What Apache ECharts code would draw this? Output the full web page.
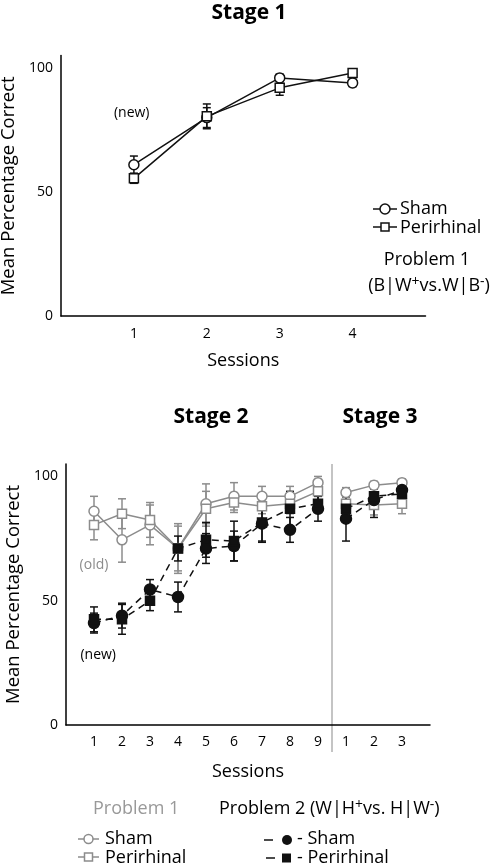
<!DOCTYPE html>
<html><head><meta charset="utf-8">
<script src="https://cdn.jsdelivr.net/npm/echarts@6/dist/echarts.min.js"></script>
<style>html,body{margin:0;padding:0;background:#fff}#c{width:492px;height:866px}</style>
</head><body><div id="c"></div>
<script>
// ---------- DATA ----------
const stage1Sessions = [1, 2, 3, 4];
const stage1Sham = [61, 80, 96, 94];
const stage1ShamErr = [3.5, 4, 1.5, 1.5];
const stage1Peri = [55.5, 80.5, 92, 98];
const stage1PeriErr = [2, 5, 3, 1.5];

const stage2Sessions = [1, 2, 3, 4, 5, 6, 7, 8, 9];
const stage3Sessions = [10, 11, 12];           // plotted after the divider, labelled 1..3
const xTickLabels = ['', '1','2','3','4','5','6','7','8','9','1','2','3',''];

const p1ShamS2 = [86, 74.5, 80.5, 71, 89, 92, 92, 92, 97.5];
const p1ShamS2Err = [6, 9, 8, 9, 8, 5.5, 4, 4, 2.5];
const p1PeriS2 = [80.5, 85, 82.5, 71, 87, 89.5, 88, 89, 94];
const p1PeriS2Err = [6, 6, 7, 10, 7, 4, 3, 4, 4];
const p1ShamS3 = [93.5, 96.5, 97.5];
const p1ShamS3Err = [2, 1.5, 1.5];
const p1PeriS3 = [89, 88.5, 89];
const p1PeriS3Err = [3, 4, 4];

const p2ShamS2 = [41, 44, 54.5, 51.5, 71, 72, 81, 78.5, 87];
const p2ShamS2Err = [4, 5, 4, 6, 6, 6, 7, 5, 5];
const p2PeriS2 = [42.5, 42.5, 50, 71, 74.5, 74, 81.5, 87, 89];
const p2PeriS2Err = [5, 6, 4, 5, 7, 8, 8, 7, 3];
const p2ShamS3 = [83, 90.5, 94.5];
const p2ShamS3Err = [9, 7, 3];
const p2PeriS3 = [87, 92, 93];
const p2PeriS3Err = [5, 3, 3];

// ---------- STYLE ----------
const FONT = 'Open Sans';
const GRAY = '#8c8c8c';
const BLACK = '#111';
const FS = 18;

function pts(xs, ys) { return xs.map((x, i) => [x, ys[i]]); }
function errs(xs, ys, es) { return xs.map((x, i) => [x, ys[i] - es[i], ys[i] + es[i]]); }

function errSeries(xi, yi, data, color) {
  return {
    type: 'custom', xAxisIndex: xi, yAxisIndex: yi, z: 1, silent: true,
    data: data,
    renderItem: function (params, api) {
      const x = api.value(0), lo = api.value(1), hi = api.value(2);
      const a = api.coord([x, hi]), b = api.coord([x, lo]);
      const w = 4, st = { stroke: color, lineWidth: 1.5 };
      return { type: 'group', children: [
        { type: 'line', shape: { x1: a[0], y1: a[1], x2: b[0], y2: b[1] }, style: st },
        { type: 'line', shape: { x1: a[0] - w, y1: a[1], x2: a[0] + w, y2: a[1] }, style: st },
        { type: 'line', shape: { x1: b[0] - w, y1: b[1], x2: b[0] + w, y2: b[1] }, style: st }
      ]};
    }
  };
}
function lineSeries(xi, yi, data, opts) {
  return {
    type: 'line', xAxisIndex: xi, yAxisIndex: yi, z: 3, data: data,
    symbol: opts.symbol, symbolSize: opts.size, showSymbol: true,
    lineStyle: { color: opts.color, width: 1.5, type: opts.dash ? [7, 5] : 'solid' },
    itemStyle: { color: opts.fill, borderColor: opts.color, borderWidth: 1.5 },
    emphasis: { disabled: true }, animation: false
  };
}

const yAxisCommon = {
  type: 'value', min: 0, max: 105, interval: 50,
  axisLine: { show: true, lineStyle: { color: '#000', width: 1.5 } },
  axisTick: { show: false }, splitLine: { show: false },
  axisLabel: { color: '#000', fontFamily: FONT, fontSize: 14, margin: 8,
    formatter: v => (v % 50 === 0 && v <= 100) ? String(v) : '' },
  nameLocation: 'middle', nameRotate: 90,
  nameTextStyle: { color: '#000', fontFamily: FONT, fontSize: 18.5 }
};

const chart = echarts.init(document.getElementById('c'), null, { renderer: 'canvas' });
const option = {
  animation: false,
  backgroundColor: '#fff',
  title: [
    { text: 'Stage 1', left: 244, top: -2, textAlign: 'center',
      textStyle: { fontFamily: FONT, fontWeight: 'bold', fontSize: 21, color: '#000' } },
    { text: 'Stage 2', left: 206, top: 402, textAlign: 'center',
      textStyle: { fontFamily: FONT, fontWeight: 'bold', fontSize: 21, color: '#000' } },
    { text: 'Stage 3', left: 375, top: 402, textAlign: 'center',
      textStyle: { fontFamily: FONT, fontWeight: 'bold', fontSize: 21, color: '#000' } }
  ],
  grid: [
    { left: 61, top: 55.6, width: 364.5, height: 260.4, containLabel: false, outerBoundsMode: 'none' },
    { left: 66, top: 464, width: 364, height: 261, containLabel: false, outerBoundsMode: 'none' }
  ],
  xAxis: [
    { type: 'value', gridIndex: 0, min: 0, max: 5, interval: 1,
      axisLine: { lineStyle: { color: '#000', width: 1.5 } }, axisTick: { show: false }, splitLine: { show: false },
      axisLabel: { color: '#000', fontFamily: FONT, fontSize: 14, margin: 11,
        formatter: v => (v >= 1 && v <= 4) ? String(v) : '' },
      name: 'Sessions', nameLocation: 'middle', nameGap: 36,
      nameTextStyle: { color: '#000', fontFamily: FONT, fontSize: FS } },
    { type: 'value', gridIndex: 1, min: 0, max: 13, interval: 1,
      axisLine: { lineStyle: { color: '#000', width: 1.5 } }, axisTick: { show: false }, splitLine: { show: false },
      axisLabel: { color: '#000', fontFamily: FONT, fontSize: 14, margin: 10,
        formatter: v => xTickLabels[Math.round(v)] || '' },
      name: 'Sessions', nameLocation: 'middle', nameGap: 38,
      nameTextStyle: { color: '#000', fontFamily: FONT, fontSize: FS } }
  ],
  yAxis: [
    Object.assign({}, yAxisCommon, { gridIndex: 0, name: 'Mean Percentage Correct', nameGap: 41 }),
    Object.assign({}, yAxisCommon, { gridIndex: 1, name: 'Mean Percentage Correct', nameGap: 43 })
  ],
  series: [
    // Stage 1
    errSeries(0, 0, errs(stage1Sessions, stage1Sham, stage1ShamErr), BLACK),
    errSeries(0, 0, errs(stage1Sessions, stage1Peri, stage1PeriErr), BLACK),
    lineSeries(0, 0, pts(stage1Sessions, stage1Sham), { symbol: 'circle', size: 10, color: BLACK, fill: '#fff' }),
    lineSeries(0, 0, pts(stage1Sessions, stage1Peri), { symbol: 'rect', size: 9, color: BLACK, fill: '#fff' }),
    // Problem 1 (gray)
    errSeries(1, 1, errs(stage2Sessions, p1ShamS2, p1ShamS2Err), GRAY),
    errSeries(1, 1, errs(stage2Sessions, p1PeriS2, p1PeriS2Err), GRAY),
    errSeries(1, 1, errs(stage3Sessions, p1ShamS3, p1ShamS3Err), GRAY),
    errSeries(1, 1, errs(stage3Sessions, p1PeriS3, p1PeriS3Err), GRAY),
    lineSeries(1, 1, pts(stage2Sessions, p1ShamS2), { symbol: 'circle', size: 10, color: GRAY, fill: '#fff' }),
    lineSeries(1, 1, pts(stage2Sessions, p1PeriS2), { symbol: 'rect', size: 9, color: GRAY, fill: '#fff' }),
    lineSeries(1, 1, pts(stage3Sessions, p1ShamS3), { symbol: 'circle', size: 10, color: GRAY, fill: '#fff' }),
    lineSeries(1, 1, pts(stage3Sessions, p1PeriS3), { symbol: 'rect', size: 9, color: GRAY, fill: '#fff' }),
    // Problem 2 (black, dashed)
    errSeries(1, 1, errs(stage2Sessions, p2ShamS2, p2ShamS2Err), BLACK),
    errSeries(1, 1, errs(stage2Sessions, p2PeriS2, p2PeriS2Err), BLACK),
    errSeries(1, 1, errs(stage3Sessions, p2ShamS3, p2ShamS3Err), BLACK),
    errSeries(1, 1, errs(stage3Sessions, p2PeriS3, p2PeriS3Err), BLACK),
    lineSeries(1, 1, pts(stage2Sessions, p2ShamS2), { symbol: 'circle', size: 11, color: BLACK, fill: BLACK, dash: true }),
    lineSeries(1, 1, pts(stage2Sessions, p2PeriS2), { symbol: 'rect', size: 9, color: BLACK, fill: BLACK, dash: true }),
    lineSeries(1, 1, pts(stage3Sessions, p2ShamS3), { symbol: 'circle', size: 11, color: BLACK, fill: BLACK, dash: true }),
    lineSeries(1, 1, pts(stage3Sessions, p2PeriS3), { symbol: 'rect', size: 9, color: BLACK, fill: BLACK, dash: true })
  ]
};
chart.setOption(option);

// ---------- annotations & legends (positioned via the library's scales) ----------
const dTop = chart.convertToPixel({ gridIndex: 1 }, [9.5, 105]);
const dBot = chart.convertToPixel({ gridIndex: 1 }, [9.5, 0]);
const newTop = chart.convertToPixel({ gridIndex: 0 }, [0.97, 82]);
const oldPos = chart.convertToPixel({ gridIndex: 1 }, [1.0, 64.5]);
const newPos = chart.convertToPixel({ gridIndex: 1 }, [1.15, 28]);

const txt = (x, y, text, opt) => Object.assign({ type: 'text', x: x, y: y,
  style: Object.assign({ text: text, fontFamily: FONT, fontSize: FS, fill: '#000',
    textVerticalAlign: 'middle', textAlign: 'left' }, opt || {}) });
const ln = (x1, y1, x2, y2, color) => ({ type: 'line', shape: { x1, y1, x2, y2 },
  style: { stroke: color, lineWidth: 1.5 } });

chart.setOption({
  graphic: [
    { type: 'line', shape: { x1: dTop[0], y1: dTop[1], x2: dBot[0], y2: dBot[1] + 27 },
      style: { stroke: '#b0b0b0', lineWidth: 1.5 }, z: 0 },
    txt(newTop[0], newTop[1], '(new)', { fontSize: 14, textAlign: 'center' }),
    txt(oldPos[0], oldPos[1], '(old)', { fontSize: 14, textAlign: 'center', fill: GRAY }),
    txt(newPos[0], newPos[1], '(new)', { fontSize: 14, textAlign: 'center' }),

    // Stage 1 legend
    ln(373, 209, 397, 209, BLACK),
    { type: 'circle', shape: { cx: 385, cy: 209, r: 5 }, style: { fill: '#fff', stroke: BLACK, lineWidth: 1.5 } },
    txt(400, 209, 'Sham'),
    ln(373, 227, 397, 227, BLACK),
    { type: 'rect', shape: { x: 381, y: 223, width: 8, height: 8 }, style: { fill: '#fff', stroke: BLACK, lineWidth: 1.5 } },
    txt(400, 228, 'Perirhinal'),
    txt(427, 260, 'Problem 1', { textAlign: 'center' }),
    { type: 'text', x: 429, y: 286, style: {
        text: '(B|W{s|+}vs.W|B{s|-})', textAlign: 'center', textVerticalAlign: 'middle',
        fontFamily: FONT, fontSize: FS, fill: '#000',
        rich: { s: { fontFamily: FONT, fontSize: 14, verticalAlign: 'top', lineHeight: 22 } } } },

    // Stage 2/3 legend
    txt(93, 809, 'Problem 1', { fill: '#999' }),
    { type: 'text', x: 219, y: 809, style: {
        text: 'Problem 2 (W|H{s|+}vs. H|W{s|-})', textAlign: 'left', textVerticalAlign: 'middle',
        fontFamily: FONT, fontSize: FS, fill: '#000',
        rich: { s: { fontFamily: FONT, fontSize: 14, verticalAlign: 'top', lineHeight: 22 } } } },
    ln(78, 839, 99, 839, GRAY),
    { type: 'circle', shape: { cx: 88.5, cy: 839, r: 4.5 }, style: { fill: '#fff', stroke: GRAY, lineWidth: 1.5 } },
    txt(105, 839, 'Sham'),
    ln(78, 857, 99, 857, GRAY),
    { type: 'rect', shape: { x: 84.5, y: 853, width: 8, height: 8 }, style: { fill: '#fff', stroke: GRAY, lineWidth: 1.5 } },
    txt(105, 858, 'Perirhinal'),
    ln(264, 840, 273, 840, BLACK),
    { type: 'circle', shape: { cx: 287, cy: 840, r: 5 }, style: { fill: BLACK } },
    txt(297, 839, '- Sham'),
    ln(266, 858, 275, 858, BLACK),
    { type: 'rect', shape: { x: 282, y: 853.5, width: 9, height: 9 }, style: { fill: BLACK } },
    txt(297, 858, '- Perirhinal')
  ]
});
</script></body></html>
